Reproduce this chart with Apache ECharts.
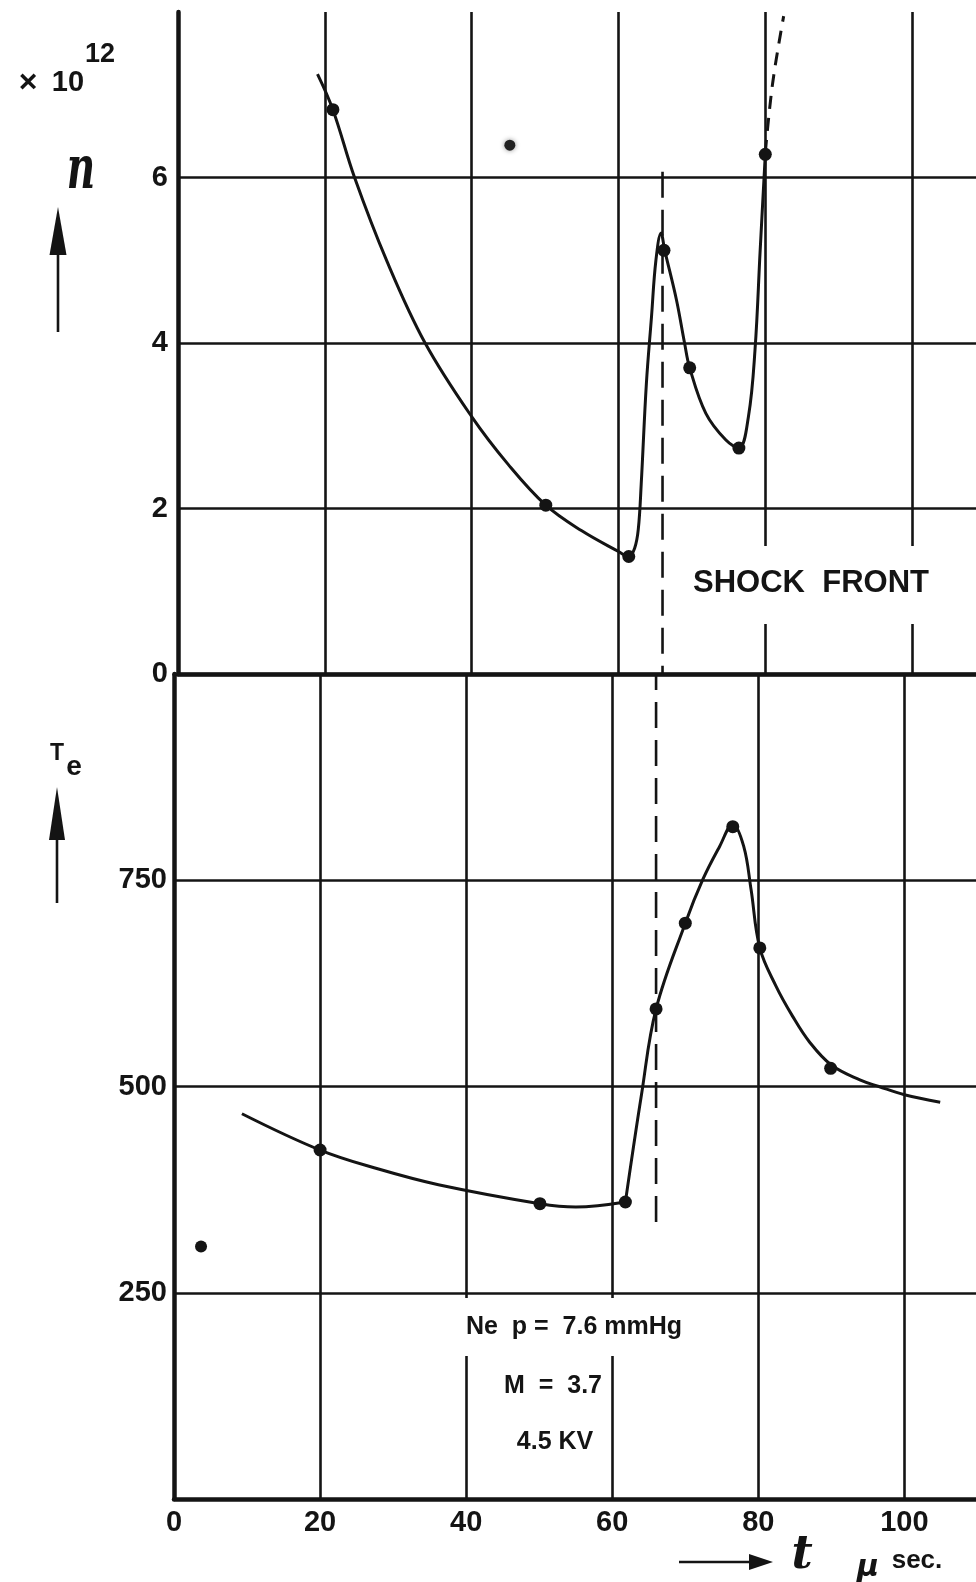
<!DOCTYPE html>
<html>
<head>
<meta charset="utf-8">
<script src="https://cdn.jsdelivr.net/npm/echarts@6/dist/echarts.min.js"></script>
<style>
html,body{margin:0;padding:0;background:#fff;}
#chart{width:976px;height:1582px;}
</style>
</head>
<body>
<div id="chart"></div>
<script>
// ---- data ----
// t in microseconds
const xTickLabels = [0, 20, 40, 60, 80, 100];
const nTickLabels = [0, 2, 4, 6];          // x 10^12
const teTickLabels = [250, 500, 750];

// electron density n (x10^12): measured points
const nPoints = [[21.1, 6.82], [50.1, 2.04], [61.4, 1.42], [66.2, 5.12], [69.7, 3.70], [76.4, 2.73], [80.0, 6.28]];
// hand-drawn curve through them
const nCurve = [[19.0, 7.25], [21.1, 6.82], [24.05, 6.0], [28.5, 4.98], [33.66, 4.0], [40.0, 3.11], [45.0, 2.53],
  [50.1, 2.04], [55.0, 1.73], [60.0, 1.48], [61.4, 1.42], [62.2, 1.52], [62.7, 1.75], [63.1, 2.30], [63.8, 3.51],
  [64.5, 4.32], [65.1, 5.0], [65.8, 5.33], [66.3, 5.12], [67.9, 4.52], [69.0, 4.0], [69.7, 3.70], [71.9, 3.15],
  [74.6, 2.83], [76.4, 2.73], [77.7, 3.11], [78.6, 3.92], [79.3, 5.12], [80.0, 6.28]];
// dashed extrapolation at top
const nDashed = [[80.0, 6.3], [81.0, 7.14], [82.5, 7.95]];

// electron temperature Te
const tePoints = [[20.0, 423], [50.1, 358], [61.8, 360], [66.0, 594], [70.0, 698], [76.5, 815], [80.2, 668], [89.9, 522]];
// drawn curve: slow part before the shock, then the rise and decay
const teCurveBefore = [[9.3, 467], [20.0, 423], [28.0, 400], [36.2, 381], [50.1, 358], [55.0, 354], [61.8, 360]];
const teCurveAfter = [[61.8, 360], [64.0, 490], [66.0, 594], [70.0, 698], [72.4, 751], [74.7, 791], [76.5, 818],
  [78.0, 791], [79.0, 739], [80.2, 668], [82.4, 622], [84.7, 585], [87.0, 554], [90.0, 526], [93.9, 508],
  [96.5, 500], [100.0, 490], [104.9, 481]];

// shock front position and extent of its dashed marker
const shockT = 66.0;
const shockTopN = 6.07;
const shockBottomTe = 327;

// stray specks on the original sheet
const specksUpper = [[45.2, 6.39]];
const specksLower = [[3.7, 306]];

// ---- chart ----
const INK = '#141414';
const FONT = 'Liberation Sans';
const SMOOTH = 0.38;
function onlyTicks(list) { return v => (list.indexOf(Math.round(v * 1000) / 1000) >= 0 ? String(v) : ''); }

const chart = echarts.init(document.getElementById('chart'), null, {renderer: 'canvas'});
const grids = [
  {left: 178, right: 0, top: 12, height: 662},
  {left: 174, right: 0, top: 674, height: 825}
];
const gridLine = {show: true, lineStyle: {color: INK, width: 2.6}, showMaxLine: false};
const curveStyle = {color: INK, width: 3};
const dotStyle = {color: INK, opacity: 1};

const option = {
  animation: false,
  backgroundColor: '#fff',
  grid: grids,
  xAxis: [
    {gridIndex: 0, type: 'value', position: 'top', min: 0, max: 108.7, interval: 20,
      axisLine: {show: true, lineStyle: {color: INK, width: 4.5}}, axisTick: {show: false},
      axisLabel: {show: false}, splitLine: Object.assign({}, gridLine, {showMinLine: false})},
    {gridIndex: 1, type: 'value', position: 'bottom', min: 0, max: 109.8, interval: 20,
      axisLine: {show: true, lineStyle: {color: INK, width: 4.5}}, axisTick: {show: false},
      axisLabel: {show: true, margin: 9, color: INK, fontFamily: FONT, fontWeight: 'bold', fontSize: 29,
        showMaxLabel: false, formatter: onlyTicks(xTickLabels)},
      splitLine: Object.assign({}, gridLine, {showMinLine: false})},
    {gridIndex: 1, type: 'value', position: 'top', min: 0, max: 109.8,
      axisLine: {show: true, lineStyle: {color: INK, width: 3.4}}, axisTick: {show: false},
      axisLabel: {show: false}, splitLine: {show: false}}
  ],
  yAxis: [
    {gridIndex: 0, type: 'value', min: 0, max: 8, interval: 2,
      axisLine: {show: true, lineStyle: {color: INK, width: 4.5}}, axisTick: {show: false},
      axisLabel: {margin: 10, color: INK, fontFamily: FONT, fontWeight: 'bold', fontSize: 29,
        showMaxLabel: false, formatter: onlyTicks(nTickLabels)},
      splitLine: Object.assign({}, gridLine, {showMinLine: true, showMaxLine: false})},
    {gridIndex: 1, type: 'value', min: 0, max: 1000, interval: 250,
      axisLine: {show: true, lineStyle: {color: INK, width: 4.5}}, axisTick: {show: false},
      axisLabel: {margin: 7, color: INK, fontFamily: FONT, fontWeight: 'bold', fontSize: 29,
        showMinLabel: false, showMaxLabel: false, formatter: onlyTicks(teTickLabels)},
      splitLine: Object.assign({}, gridLine, {showMinLine: false})}
  ],
  series: [
    {type: 'line', name: 'n curve', xAxisIndex: 0, yAxisIndex: 0, data: nCurve, smooth: SMOOTH,
      showSymbol: false, lineStyle: curveStyle, z: 3},
    {type: 'line', name: 'n dashed', xAxisIndex: 0, yAxisIndex: 0, data: nDashed, smooth: SMOOTH,
      showSymbol: false, lineStyle: {color: INK, width: 3, type: [13, 9]}, z: 3},
    {type: 'scatter', name: 'n', xAxisIndex: 0, yAxisIndex: 0, data: nPoints, symbolSize: 13,
      itemStyle: dotStyle, z: 4},
    {type: 'line', name: 'shock upper', xAxisIndex: 0, yAxisIndex: 0, data: [[shockT, shockTopN], [shockT, 0]],
      showSymbol: false, lineStyle: {color: INK, width: 2.6, type: [26, 12]}, z: 3},
    {type: 'line', name: 'shock lower', xAxisIndex: 1, yAxisIndex: 1, data: [[shockT, 1000], [shockT, shockBottomTe]],
      showSymbol: false, lineStyle: {color: INK, width: 2.6, type: [26, 12], dashOffset: 10}, z: 3},
    {type: 'line', name: 'Te curve before', xAxisIndex: 1, yAxisIndex: 1, data: teCurveBefore, smooth: SMOOTH,
      showSymbol: false, lineStyle: curveStyle, z: 3},
    {type: 'line', name: 'Te curve after', xAxisIndex: 1, yAxisIndex: 1, data: teCurveAfter, smooth: SMOOTH,
      showSymbol: false, lineStyle: curveStyle, z: 3},
    {type: 'scatter', name: 'Te', xAxisIndex: 1, yAxisIndex: 1, data: tePoints, symbolSize: 13,
      itemStyle: dotStyle, z: 4},
    {type: 'scatter', name: 'speck1', xAxisIndex: 0, yAxisIndex: 0, data: specksUpper, symbolSize: 11,
      itemStyle: {color: '#222', opacity: 1, shadowBlur: 5, shadowColor: 'rgba(0,0,0,0.45)'}, z: 4},
    {type: 'scatter', name: 'speck2', xAxisIndex: 1, yAxisIndex: 1, data: specksLower, symbolSize: 12,
      itemStyle: dotStyle, z: 4}
  ],
  graphic: [
    // white patches where the lettering interrupts the grid
    {type: 'rect', z: 1, shape: {x: 680, y: 546, width: 262, height: 78}, style: {fill: '#fff'}},
    {type: 'rect', z: 1, shape: {x: 445, y: 1298, width: 262, height: 58}, style: {fill: '#fff'}},
    {type: 'text', z: 5, x: 811, y: 583, style: {text: 'SHOCK  FRONT', fill: INK, font: 'bold 31px "Liberation Sans"', align: 'center', verticalAlign: 'middle'}},
    {type: 'text', z: 5, x: 574, y: 1327, style: {text: 'Ne  p =  7.6 mmHg', fill: INK, font: 'bold 25px "Liberation Sans"', align: 'center', verticalAlign: 'middle'}},
    {type: 'text', z: 5, x: 553, y: 1386, style: {text: 'M  =  3.7', fill: INK, font: 'bold 25px "Liberation Sans"', align: 'center', verticalAlign: 'middle'}},
    {type: 'text', z: 5, x: 555, y: 1442, style: {text: '4.5 KV', fill: INK, font: 'bold 25px "Liberation Sans"', align: 'center', verticalAlign: 'middle'}},
    // y-axis names
    {type: 'text', z: 5, x: 28, y: 83, style: {text: '×', fill: INK, font: 'bold 32px "Liberation Sans"', align: 'center', verticalAlign: 'middle'}},
    {type: 'text', z: 5, x: 68, y: 83, style: {text: '10', fill: INK, font: 'bold 29px "Liberation Sans"', align: 'center', verticalAlign: 'middle'}},
    {type: 'text', z: 5, x: 100, y: 55, style: {text: '12', fill: INK, font: 'bold 27px "Liberation Sans"', align: 'center', verticalAlign: 'middle'}},
    {type: 'text', z: 5, x: 60, y: 172, scaleX: 0.65, originX: 60, originY: 172, style: {text: 'n', fill: INK, font: 'italic bold 60px "DejaVu Serif"', align: 'center', verticalAlign: 'middle'}},
    {type: 'line', z: 5, shape: {x1: 58, y1: 332, x2: 58, y2: 248}, style: {stroke: INK, lineWidth: 2.6}},
    {type: 'polygon', z: 5, shape: {points: [[58, 207], [49.5, 255], [66.5, 255]]}, style: {fill: INK}},
    {type: 'text', z: 5, x: 57, y: 754, style: {text: 'T', fill: INK, font: 'bold 23px "Liberation Sans"', align: 'center', verticalAlign: 'middle'}},
    {type: 'text', z: 5, x: 74, y: 767, style: {text: 'e', fill: INK, font: 'bold 28px "Liberation Sans"', align: 'center', verticalAlign: 'middle'}},
    {type: 'line', z: 5, shape: {x1: 57, y1: 903, x2: 57, y2: 835}, style: {stroke: INK, lineWidth: 2.6}},
    {type: 'polygon', z: 5, shape: {points: [[57, 787], [49, 840], [65, 840]]}, style: {fill: INK}},
    // x-axis name
    {type: 'line', z: 5, shape: {x1: 679, y1: 1562, x2: 752, y2: 1562}, style: {stroke: INK, lineWidth: 2.6}},
    {type: 'polygon', z: 5, shape: {points: [[773, 1562], [749, 1554], [749, 1570]]}, style: {fill: INK}},
    {type: 'text', z: 5, x: 802, y: 1556, style: {text: 't', fill: INK, font: 'italic bold 46px "DejaVu Serif"', align: 'center', verticalAlign: 'middle'}},
    {type: 'text', z: 5, x: 868, y: 1568, style: {text: 'μ', fill: INK, font: 'italic bold 30px "DejaVu Sans"', align: 'center', verticalAlign: 'middle'}},
    {type: 'text', z: 5, x: 917, y: 1561, style: {text: 'sec.', fill: INK, font: 'bold 26px "Liberation Sans"', align: 'center', verticalAlign: 'middle'}}
  ]
};
chart.setOption(option);
</script>
</body>
</html>
